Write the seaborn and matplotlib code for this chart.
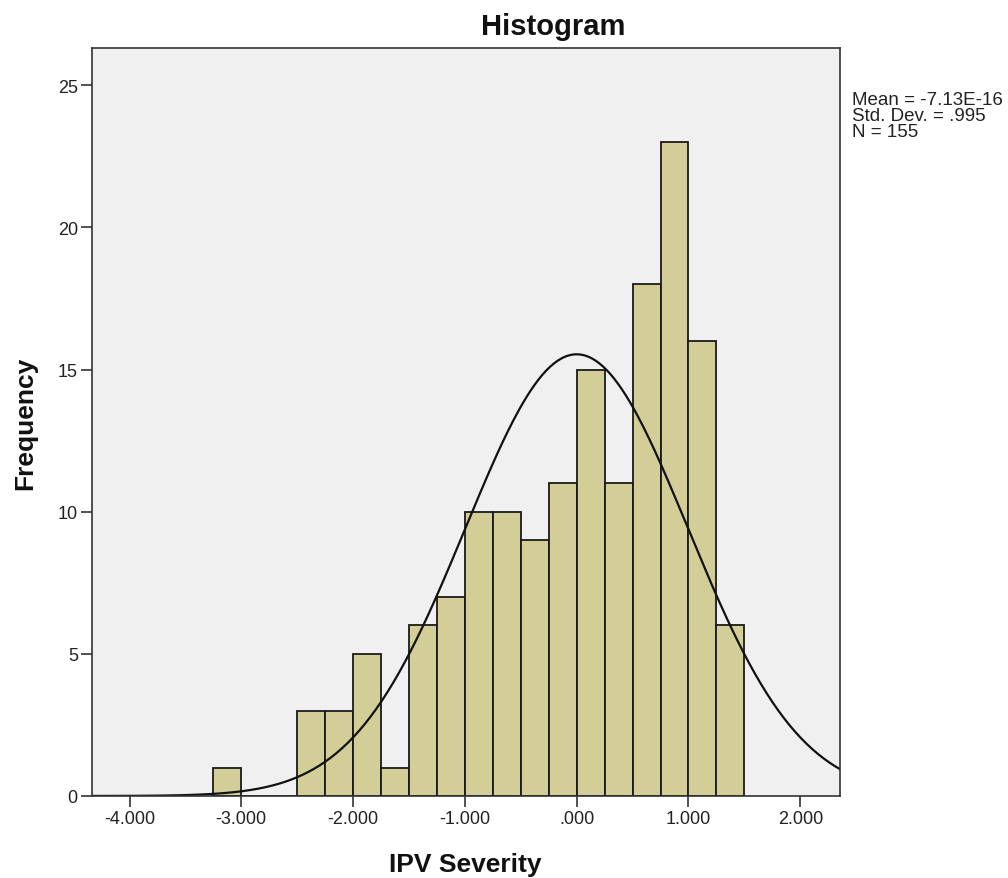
import numpy as np
import pandas as pd
import matplotlib
matplotlib.use("Agg")
import matplotlib.pyplot as plt
import seaborn as sns
from matplotlib.ticker import FuncFormatter

# Data
bin_edges = [-3.25, -3.0, -2.75, -2.5, -2.25, -2.0, -1.75, -1.5, -1.25, -1.0,
             -0.75, -0.5, -0.25, 0.0, 0.25, 0.5, 0.75, 1.0, 1.25, 1.5]
counts = [1, 0, 0, 3, 3, 5, 1, 6, 7, 10, 10, 9, 11, 15, 11, 18, 23, 16, 6]
mean_val = -7.13e-16
std_val = 0.995
n_val = 155
stats_lines = ["Mean = -7.13E-16", "Std. Dev. = .995", "N = 155"]
x_ticks = [-4, -3, -2, -1, 0, 1, 2]
y_ticks = [0, 5, 10, 15, 20, 25]

sns.set_theme(style="white")
plt.rcParams['font.family'] = ['Liberation Sans', 'DejaVu Sans']

centers = [(bin_edges[i] + bin_edges[i + 1]) / 2 for i in range(len(counts))]
df = pd.DataFrame({"x": centers, "w": counts})

W, H = 1008, 879
fig = plt.figure(figsize=(W / 100, H / 100), dpi=100)
ax = fig.add_axes([0.091, 0.0933, 0.7423, 0.8506])
ax.set_facecolor("#F0F0F0")

sns.histplot(data=df, x="x", weights="w", bins=bin_edges, ax=ax,
             color="#D3CE97", edgecolor="#1a1a1a", linewidth=1.3, alpha=1.0)

# Normal curve
bw = bin_edges[1] - bin_edges[0]
xs = np.linspace(-4.4, 2.4, 400)
ys = n_val * bw / (std_val * np.sqrt(2 * np.pi)) * np.exp(-0.5 * ((xs - mean_val) / std_val) ** 2)
sns.lineplot(x=xs, y=ys, ax=ax, color="#111111", linewidth=1.6)

ax.set_xlim(-4.338, 2.355)
ax.set_ylim(0, 26.3)
ax.set_xticks(x_ticks)
ax.set_yticks(y_ticks)

def fmt(v, pos):
    s = f"{v:.3f}"
    if s.startswith("0."):
        s = s[1:]
    elif s.startswith("-0."):
        s = "-" + s[2:]
    return s

ax.xaxis.set_major_formatter(FuncFormatter(fmt))
ax.tick_params(axis="both", direction="out", length=8, width=1.2, color="#333333",
               labelsize=13, labelcolor="#222222", bottom=True, left=True, pad=2)
for sp in ax.spines.values():
    sp.set_color("#333333")
    sp.set_linewidth(1.2)

ax.set_xlabel("")
ax.set_ylabel("")
fig.text(465 / W, 1 - 872 / H, "IPV Severity", fontsize=19, fontweight="bold",
         ha="center", va="baseline", color="#111111")
fig.text(25 / W, 1 - 423 / H, "Frequency", fontsize=19, fontweight="bold",
         ha="center", va="center", rotation=90, color="#111111")
fig.text(553 / W, 1 - 35 / H, "Histogram", fontsize=21, fontweight="bold",
         ha="center", va="baseline", color="#111111")

for i, line in enumerate(stats_lines):
    fig.text(852 / W, 1 - (105 + 16 * i) / H, line, fontsize=13.5,
             va="baseline", ha="left", color="#222222")

fig.savefig("out.png", dpi=100)
